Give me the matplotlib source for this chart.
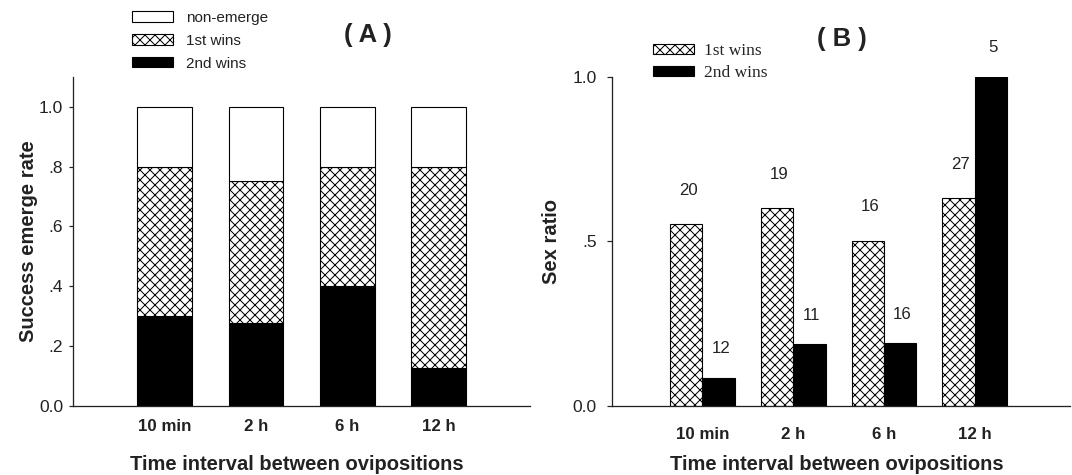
import numpy as np
import matplotlib.pyplot as plt
from matplotlib.patches import Patch

# data
intervals = ['10 min', '2 h', '6 h', '12 h']

# panel A: stacked success emerge rate
second_wins_A = [0.30, 0.275, 0.40, 0.125]
first_wins_A = [0.50, 0.475, 0.40, 0.675]
non_emerge_A = [0.20, 0.25, 0.20, 0.20]

# panel B: sex ratio and sample sizes
sex_first = [0.552, 0.601, 0.502, 0.631]
sex_second = [0.086, 0.1875, 0.19, 1.0]
n_first = [20, 19, 16, 27]
n_second = [12, 11, 16, 5]

DPI = 120
HATCH = 'xxxx'


def pt(px):
    # pixels -> points at this dpi
    return px * 72 / DPI


plt.rcParams['font.family'] = ['Liberation Sans', 'DejaVu Sans']
plt.rcParams['hatch.linewidth'] = pt(1.0)
plt.rcParams['hatch.color'] = 'black'

fig = plt.figure(figsize=(1072 / DPI, 475 / DPI), dpi=DPI)
axA = fig.add_axes([0.0684, 0.1459, 0.426, 0.6924])
axB = fig.add_axes([0.5706, 0.1453, 0.4275, 0.6933])

x = np.arange(1, len(intervals) + 1)
lw = pt(1.1)
dark = '#222222'

# ---- panel A
bA = 0.6
axA.bar(x, second_wins_A, bA, color='black', edgecolor='black', linewidth=lw)
axA.bar(x, first_wins_A, bA, bottom=second_wins_A, color='white',
        edgecolor='black', linewidth=lw, hatch=HATCH)
top2 = np.array(second_wins_A) + np.array(first_wins_A)
axA.bar(x, non_emerge_A, bA, bottom=top2, color='white', edgecolor='black', linewidth=lw)

axA.set_xlim(0, 5)
axA.set_ylim(0, 1.1)
axA.set_yticks([0, 0.2, 0.4, 0.6, 0.8, 1.0])
axA.set_yticklabels(['0.0', '.2', '.4', '.6', '.8', '1.0'])
axA.tick_params(axis='y', length=pt(4), width=pt(1.2), pad=pt(6),
                labelsize=pt(17.4), color=dark, labelcolor=dark)
axA.set_xticks(x)
axA.set_xticklabels(intervals, fontweight='bold', fontsize=pt(16.9), color=dark)
axA.tick_params(axis='x', length=0, pad=pt(13))
axA.set_ylabel('Success emerge rate', fontweight='bold', fontsize=pt(20.2), color=dark)
axA.yaxis.set_label_coords(-0.078, 0.5)
axA.set_xlabel('Time interval between ovipositions', fontweight='bold',
               fontsize=pt(20.2), color=dark)
axA.xaxis.set_label_coords(0.489, -0.150)

# ---- panel B
bB = 0.357
axB.bar(x - bB / 2, sex_first, bB, color='white', edgecolor='black',
        linewidth=lw, hatch=HATCH)
axB.bar(x + bB / 2, sex_second, bB, color='black', edgecolor='black', linewidth=lw)
for xi, h, n in zip(x - bB / 2, sex_first, n_first):
    axB.annotate(str(n), (xi, h), xytext=(pt(2), pt(34)), textcoords='offset points',
                 ha='center', va='center', fontsize=pt(16.7), color=dark)
for xi, h, n in zip(x + bB / 2, sex_second, n_second):
    axB.annotate(str(n), (xi, h), xytext=(pt(2), pt(29)), textcoords='offset points',
                 ha='center', va='center', fontsize=pt(16.7), color=dark)

axB.set_xlim(0, 5.05)
axB.set_ylim(0, 1.0)
axB.set_yticks([0, 0.5, 1.0])
axB.set_yticklabels(['0.0', '.5', '1.0'])
axB.tick_params(axis='y', length=pt(5), width=pt(1.2), pad=pt(10),
                labelsize=pt(17.4), color=dark, labelcolor=dark)
axB.set_xticks(x)
axB.set_xticklabels(intervals, fontweight='bold', fontsize=pt(16.9), color=dark)
axB.tick_params(axis='x', length=0, pad=pt(21))
axB.set_ylabel('Sex ratio', fontweight='bold', fontsize=pt(20.2), color=dark)
axB.yaxis.set_label_coords(-0.111, 0.5)
axB.set_xlabel('Time interval between ovipositions', fontweight='bold',
               fontsize=pt(20.2), color=dark)
axB.xaxis.set_label_coords(0.4916, -0.149)

for ax in (axA, axB):
    ax.spines['top'].set_visible(False)
    ax.spines['right'].set_visible(False)
    for s in ('left', 'bottom'):
        ax.spines[s].set_linewidth(pt(1.3))
        ax.spines[s].set_color(dark)

# titles
fig.text(0.343, 0.926, '( A )', ha='center', va='center', fontweight='bold',
         fontsize=pt(25.7), color=dark)
fig.text(0.7854, 0.918, '( B )', ha='center', va='center', fontweight='bold',
         fontsize=pt(25.7), color=dark)

# legends
hA = [Patch(facecolor='white', edgecolor='black', linewidth=lw),
      Patch(facecolor='white', edgecolor='black', linewidth=lw, hatch=HATCH),
      Patch(facecolor='black', edgecolor='black', linewidth=lw)]
fig.legend(hA, ['non-emerge', '1st wins', '2nd wins'], loc='upper left',
           bbox_to_anchor=(0.1231, 0.977), frameon=False, borderpad=0,
           borderaxespad=0, handlelength=2.68, handleheight=0.65,
           handletextpad=0.85, labelspacing=0.58,
           prop={'size': pt(15.3)}, labelcolor=dark)

hB = [Patch(facecolor='white', edgecolor='black', linewidth=lw, hatch=HATCH),
      Patch(facecolor='black', edgecolor='black', linewidth=lw)]
fig.legend(hB, ['1st wins', '2nd wins'], loc='upper left',
           bbox_to_anchor=(0.6094, 0.9096), frameon=False, borderpad=0,
           borderaxespad=0, handlelength=2.36, handleheight=0.52,
           handletextpad=0.57, labelspacing=0.355,
           prop={'family': 'Liberation Serif', 'size': pt(17.4)}, labelcolor=dark)

fig.savefig('out.png', dpi=DPI)
